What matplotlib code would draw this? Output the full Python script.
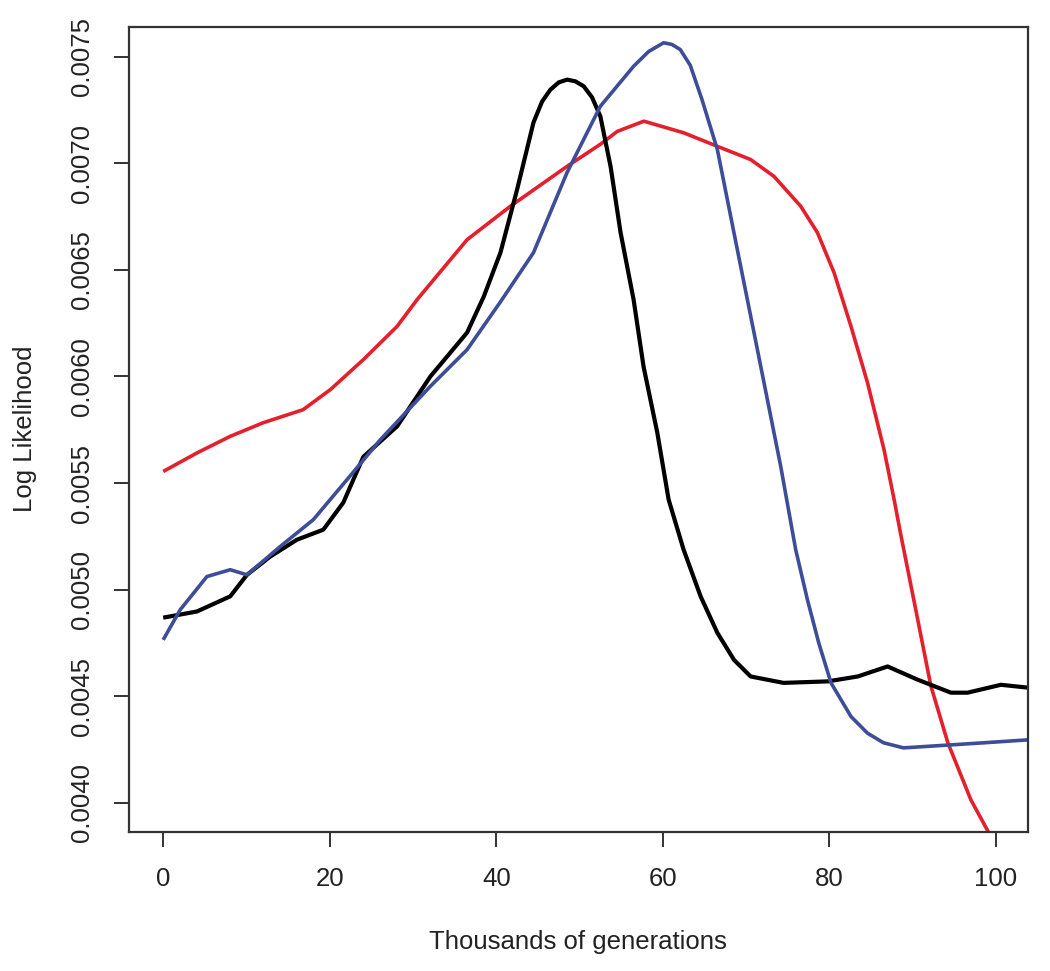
import numpy as np
import matplotlib
matplotlib.use('Agg')
import matplotlib.pyplot as plt

plt.rcParams['font.family'] = ['Liberation Sans', 'DejaVu Sans']

# values (thousands of generations, likelihood x 1000)
black_x = [0, 4.05, 8.05, 10.06, 12.86, 16.07, 19.23, 21.63, 24.04, 28.09, 32.09, 36.5,
           38.5, 40.5, 42.5, 44.47, 45.5, 46.5, 47.5, 48.5, 49.5, 50.5, 51.5, 52.5, 53.73,
           54.93, 56.49, 57.69, 59.34, 60.7, 62.5, 64.54, 66.55, 68.55, 70.55, 74.5, 79.8,
           83.4, 87.0, 90.6, 94.6, 96.6, 100.6, 104]
black_y = [4.868, 4.897, 4.968, 5.069, 5.155, 5.234, 5.281, 5.408, 5.623, 5.766, 6.0, 6.206,
           6.375, 6.581, 6.877, 7.192, 7.29, 7.346, 7.38, 7.393, 7.385, 7.362, 7.31, 7.221, 6.985,
           6.675, 6.361, 6.046, 5.736, 5.422, 5.187, 4.968, 4.797, 4.67, 4.592, 4.562, 4.569,
           4.592, 4.639, 4.577, 4.516, 4.516, 4.553, 4.539]

blue_x = [0, 2.04, 5.25, 8.05, 10.06, 14.06, 18.03, 22.08, 26.08, 32.09, 36.5, 40.5,
          44.47, 48.5, 52.5, 56.5, 58.3, 60.1, 61.1, 62.1, 63.3, 64.7, 66.55, 67.75, 69.35,
          70.95, 72.56, 74.16, 75.96, 77.37, 78.73, 80.2, 82.6, 84.58, 86.5, 88.9, 94.6,
          98.6, 104]
blue_y = [4.764, 4.905, 5.061, 5.093, 5.069, 5.202, 5.328, 5.516, 5.703, 5.954, 6.126, 6.35,
          6.581, 6.957, 7.268, 7.456, 7.525, 7.566, 7.558, 7.534, 7.46, 7.3, 7.065, 6.83, 6.517,
          6.206, 5.891, 5.578, 5.187, 4.952, 4.749, 4.562, 4.404, 4.326, 4.281, 4.257, 4.271,
          4.281, 4.295]

red_x = [0, 4.05, 8.05, 12.02, 16.8, 20.07, 24.04, 28.09, 30.5, 36.5, 41.7, 48.5, 52.52,
         54.53, 57.73, 62.54, 66.55, 70.55, 73.35, 76.56, 78.57, 80.57, 82.6, 84.58, 86.57,
         87.78, 88.58, 90.38, 92.19, 94.23, 97.0, 99.16, 101]
red_y = [5.554, 5.641, 5.719, 5.783, 5.844, 5.938, 6.079, 6.235, 6.361, 6.642, 6.799, 6.986, 7.09,
         7.15, 7.198, 7.143, 7.08, 7.018, 6.939, 6.799, 6.675, 6.487, 6.235, 5.971, 5.656,
         5.422, 5.257, 4.905, 4.548, 4.281, 4.013, 3.858, 3.72]

x_ticks = [0, 20, 40, 60, 80, 100]
y_ticks = [0.0040, 0.0045, 0.0050, 0.0055, 0.0060, 0.0065, 0.0070, 0.0075]

fig = plt.figure(figsize=(10.5, 9.71), dpi=100)
ax = fig.add_axes([0.1229, 0.1432, 0.8557, 0.8295])

line_kw = dict(solid_joinstyle='round', solid_capstyle='butt')
ax.plot(red_x, np.array(red_y) / 1000, color='#e3202b', lw=2.6, **line_kw)
ax.plot(black_x, np.array(black_y) / 1000, color='black', lw=3.0, **line_kw)
ax.plot(blue_x, np.array(blue_y) / 1000, color='#3d4d98', lw=2.6, **line_kw)

ax.set_xlim(-4.1, 103.8)
ax.set_ylim(0.0038624, 0.0076423)
ax.set_xticks(x_ticks)
ax.set_xticklabels([str(t) for t in x_ticks])
ax.set_yticks(y_ticks)
ax.set_yticklabels(['%.4f' % t for t in y_ticks], rotation=90, va='center')

for s in ax.spines.values():
    s.set_linewidth(1.6)
    s.set_color('#333333')
ax.tick_params(length=11, width=1.4, color='#333333', labelsize=18.5, pad=14,
               labelcolor='#222222')

ax.set_xlabel('Thousands of generations', fontsize=18.5, color='#222222', labelpad=28)
ax.set_ylabel('Log Likelihood', fontsize=18.5, color='#222222', labelpad=24)

fig.savefig('out.png', dpi=100)
